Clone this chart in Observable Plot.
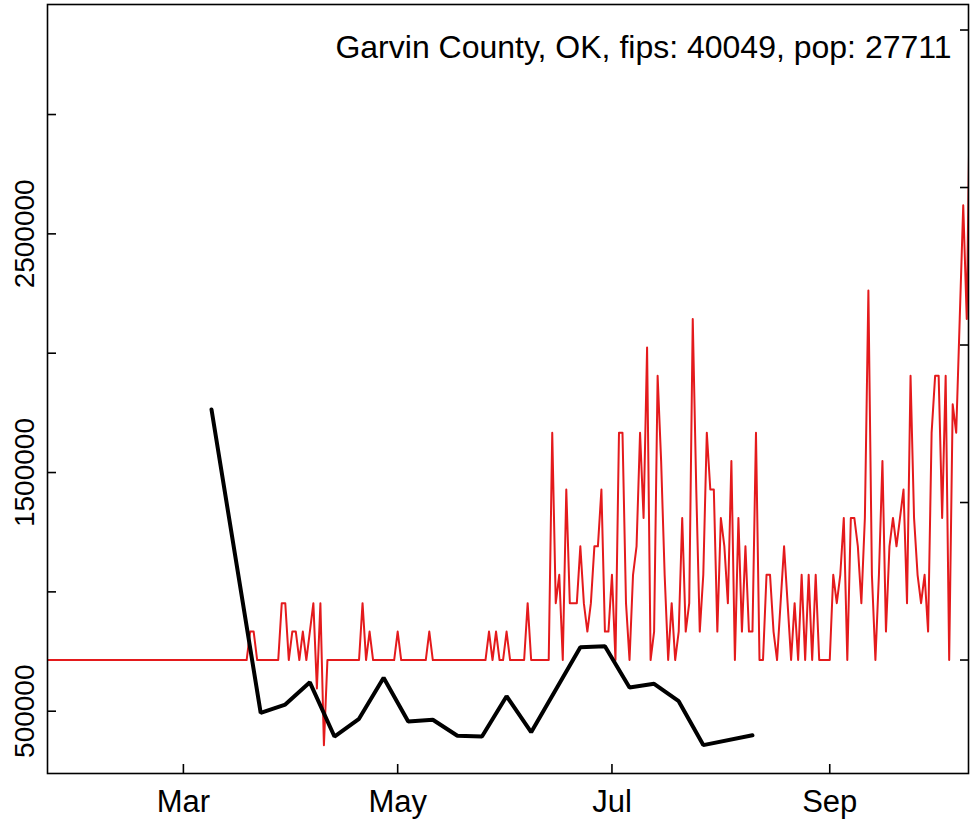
<!DOCTYPE html>
<html>
<head>
<meta charset="utf-8">
<script src="https://cdn.jsdelivr.net/npm/d3@7"></script>
<script src="https://cdn.jsdelivr.net/npm/@observablehq/plot@0.6"></script>
<style>
  html, body { margin: 0; padding: 0; background: #fff; }
  #chart { width: 974px; height: 822px; }
</style>
</head>
<body>
<div id="chart"></div>
<script>
// ---- data ----
const titleText = "Garvin County, OK, fips: 40049, pop: 27711";
const population = 27711;

// black series (left axis), weekly vertices
const blackDates = ["2020-03-09","2020-03-23","2020-03-30","2020-04-06","2020-04-13","2020-04-20","2020-04-27","2020-05-04","2020-05-11","2020-05-18","2020-05-25","2020-06-01","2020-06-08","2020-06-22","2020-06-29","2020-07-06","2020-07-13","2020-07-20","2020-07-27","2020-08-10"];
const blackValues = [1764000,493000,528000,621000,394000,468000,640000,457000,464000,397000,394000,563000,412000,768000,772000,599000,615000,542000,358000,399000];

// red series (right axis): daily new cases from redStart, one value per day
const redStart = "2020-01-22";
const redDailyCases = [
  0,0,0,0,0,0,0,0,0,0, 0,0,0,0,0,0,0,0,0,0,
  0,0,0,0,0,0,0,0,0,0, 0,0,0,0,0,0,0,0,0,0,
  0,0,0,0,0,0,0,0,0,0, 0,0,0,0,0,0,0,0,1,1,
  0,0,0,0,0,0,0,2,2,0, 1,1,0,1,0,1,2,-1,2,-3,
  0,0,0,0,0,0,0,0,0,0, 2,0,1,0,0,0,0,0,0,0,
  1,0,0,0,0,0,0,0,0,1, 0,0,0,0,0,0,0,0,0,0,
  0,0,0,0,0,0,1,0,1,0, 0,1,0,0,0,0,0,2,0,0,
  0,0,0,0,8,2,3,0,6,2, 2,2,4,2,1,2,4,4,6,1,
  1,3,0,8,8,2,0,3,4,8, 5,11,0,1,10,7,3,0,2,0,
  1,5,1,2,12,6,1,3,8,6, 6,1,5,4,2,7,0,5,1,4,
  1,1,8,0,0,3,3,1,0,2, 4,2,0,2,0,3,0,3,0,3,
  0,0,0,0,3,2,3,5,0,5, 5,4,2,5,13,3,0,3,7,1,
  4,5,4,5,6,2,10,5,3,2, 3,1,8,10,10,5,10,0,9,8,
  12,16,12,21
];

// axes
const leftTicks = [500000,1000000,1500000,2000000,2500000,3000000];
const leftLabels = [500000,1500000,2500000];
const rightTicks = [0,20,40,60,80];           // cases per 100k
const monthTicks = ["2020-03-01","2020-05-01","2020-07-01","2020-09-01"];

// scale extents of the panel
const xDomain = [new Date(Date.UTC(2020,0,22,7,30)), new Date(Date.UTC(2020,9,10,12,0))];
const leftDomain = [239000, 3461000];
const rightDomain = [-14.41, 83.24];

// ---- build tables ----
const toLeft = r => leftDomain[0] + (r - rightDomain[0]) * (leftDomain[1] - leftDomain[0]) / (rightDomain[1] - rightDomain[0]);
const day0 = new Date(redStart + "T00:00:00Z");
const redRows = redDailyCases.map((c, i) => ({
  date: new Date(day0.getTime() + i * 86400000),
  per100k: c / population * 100000
}));
const blackRows = blackDates.map((d, i) => ({date: new Date(d + "T00:00:00Z"), value: blackValues[i]}));
const monthDates = monthTicks.map(d => new Date(d + "T00:00:00Z"));

const FONT = 31;
const chart = Plot.plot({
  width: 974,
  height: 822,
  marginLeft: 47,
  marginRight: 6,
  marginTop: 4,
  marginBottom: 49,
  style: {fontFamily: "'Liberation Sans', Arial, Helvetica, sans-serif", fontSize: FONT + "px", background: "#fff", color: "#000", overflow: "visible"},
  x: {type: "utc", domain: xDomain},
  y: {domain: leftDomain},
  marks: [
    Plot.lineY(redRows, {x: "date", y: d => toLeft(d.per100k), stroke: "#e41a1c", strokeWidth: 2, clip: true}),
    Plot.lineY(blackRows, {x: "date", y: "value", stroke: "#000", strokeWidth: 4, strokeLinejoin: "miter", clip: true}),
    Plot.frame({stroke: "#000", strokeWidth: 1.6}),
    // inward ticks
    Plot.axisY(leftTicks, {anchor: "left", tickSize: 9, dx: 9, fill: "none", stroke: "#000", strokeWidth: 1.6, label: null}),
    Plot.axisY(rightTicks.map(toLeft), {anchor: "right", tickSize: 9, dx: -9, fill: "none", stroke: "#000", strokeWidth: 1.6, label: null}),
    Plot.axisX(monthDates, {anchor: "bottom", tickSize: 9, dy: -9, fill: "none", stroke: "#000", strokeWidth: 1.6, label: null}),
    // labels
    Plot.axisX(monthDates, {anchor: "bottom", tickSize: 0, tickPadding: 16, tickFormat: d3.utcFormat("%b"), fontSize: FONT, fill: "#000", label: null}),
    Plot.text(leftLabels, {y: d => d, text: d => d3.format("d")(d), frameAnchor: "left", dx: -22, rotate: -90, textAnchor: "middle", lineAnchor: "middle", fontSize: 28, fill: "#000"}),
    Plot.text([titleText], {frameAnchor: "top-right", dx: -17, dy: 31, textAnchor: "end", lineAnchor: "top", fontSize: 32, fill: "#000"})
  ]
});
document.getElementById("chart").appendChild(chart);
</script>
</body>
</html>
